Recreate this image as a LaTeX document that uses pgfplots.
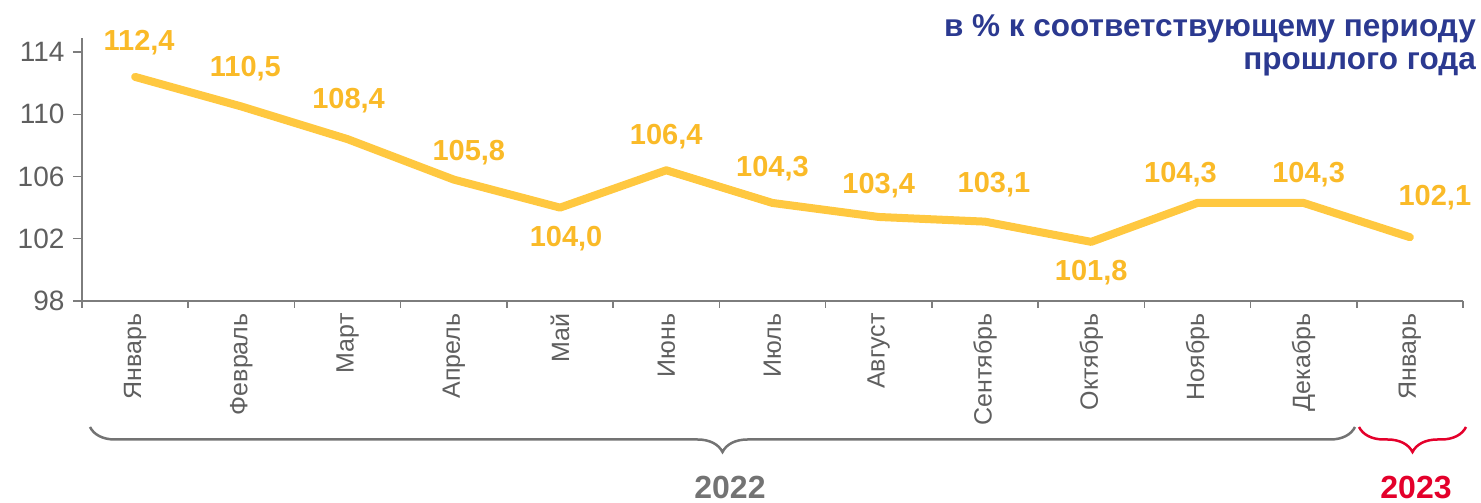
\documentclass[border=0pt]{standalone}
\usepackage{fontspec}
\setmainfont{Liberation Sans}
\usepackage{pgfplots}
\pgfplotsset{compat=1.18}
\usepackage{pgfplotstable}
\usetikzlibrary{decorations.pathreplacing}
\definecolor{lineY}{RGB}{255,200,64}
\definecolor{labY}{RGB}{250,186,40}
\definecolor{navy}{RGB}{43,57,144}
\definecolor{redc}{RGB}{228,0,43}
\definecolor{grayt}{RGB}{95,95,95}
\definecolor{grayax}{RGB}{125,125,125}
\definecolor{graybr}{RGB}{115,115,115}

\pgfplotstableread{
x y dx dy lbl
0 112.4 4 34 112,4
1 110.5 4 38 110,5
2 108.4 1 39 108,4
3 105.8 15 27 105,8
4 104.0 6 -31 104,0
5 106.4 0 34 106,4
6 104.3 0 34 104,3
7 103.4 0 31 103,4
8 103.1 9 37 103,1
9 101.8 0 -31 101,8
10 104.3 -17 28 104,3
11 104.3 5 28 104,3
12 102.1 25 40 102,1
}\data

\begin{document}
\begin{tikzpicture}
\useasboundingbox (0pt,0pt) rectangle (1481pt,503pt);
\begin{axis}[
  at={(82pt,202pt)}, anchor=south west,
  scale only axis, width=1381pt, height=263pt,
  xmin=-0.5, xmax=12.5, ymin=98, ymax=114.9,
  axis x line*=bottom, axis y line*=left,
  axis line style={grayax, line width=1.5pt},
  clip=false,
  ytick={98,102,106,110,114},
  yticklabels={98,102,106,110,114},
  xtick={0,...,12},
  xticklabels={Январь,Февраль,Март,Апрель,Май,Июнь,Июль,Август,Сентябрь,Октябрь,Ноябрь,Декабрь,Январь},
  minor xtick={-0.5,0.5,...,12.5},
  major x tick style={draw=none},
  minor x tick style={grayax, line width=1.5pt},
  y tick style={grayax, line width=1.5pt},
  tick align=outside,
  major tick length=9pt,
  minor tick length=7pt,
  yticklabel style={font=\fontsize{28}{32}\selectfont, text=grayt, xshift=-5pt},
  xticklabel style={font=\fontsize{25}{29}\selectfont, text=grayt, rotate=90, anchor=east},
]
\addplot[lineY, line width=8pt, no markers, line join=round, line cap=round] table[x=x,y=y]{\data};
\addplot[draw=none, no markers, nodes near coords, point meta=explicit symbolic,
  visualization depends on={\thisrow{dx}\as\dx},
  visualization depends on={\thisrow{dy}\as\dy},
  every node near coord/.append style={anchor=center, xshift=\dx pt, yshift=\dy pt,
    font=\bfseries\fontsize{29}{33}\selectfont, text=labY}]
  table[x=x,y=y,meta=lbl]{\data};
\end{axis}
\node[anchor=base east, text=navy, font=\bfseries\fontsize{31.5}{35}\selectfont, inner sep=0pt] at (1476pt,466pt) {в \% к соответствующему периоду};
\node[anchor=base east, text=navy, font=\bfseries\fontsize{31.5}{35}\selectfont, inner sep=0pt] at (1476pt,433pt) {прошлого года};
\draw[graybr, line width=2.5pt, decorate, decoration={brace, mirror, amplitude=25pt}] (90pt,76pt) -- (1355pt,76pt);
\draw[redc, line width=2.5pt, decorate, decoration={brace, mirror, amplitude=25pt}] (1359pt,76pt) -- (1466pt,76pt);
\node[anchor=base, text=graybr, font=\bfseries\fontsize{32}{36}\selectfont, inner sep=0pt] at (730pt,4pt) {2022};
\node[anchor=base, text=redc, font=\bfseries\fontsize{32}{36}\selectfont, inner sep=0pt] at (1416pt,4pt) {2023};
\end{tikzpicture}
\end{document}
